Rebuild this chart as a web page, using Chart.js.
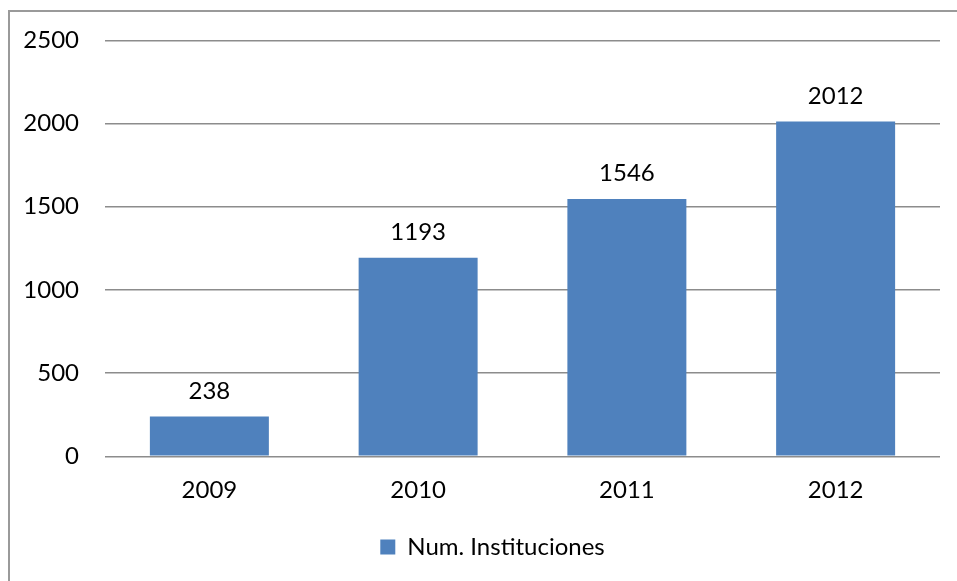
<!DOCTYPE html>
<html>
<head>
<meta charset="utf-8">
<script src="https://cdn.jsdelivr.net/npm/chart.js@4"></script>
<style>
  html, body { margin: 0; padding: 0; background: #fff; }
  #wrap { position: relative; width: 957px; height: 581px; }
  #frame {
    position: absolute; left: 8px; top: 10px; right: 0; bottom: 0;
    border-left: 2px solid #9a9a9a; border-top: 2px solid #9a9a9a;
  }
  canvas { position: absolute; left: 0; top: 0; }
</style>
</head>
<body>
<div id="wrap">
  <div id="frame"></div>
  <canvas id="myBarChart" width="957" height="581"></canvas>
</div>
<script>
const years = ['2009', '2010', '2011', '2012'];
const instituciones = [238, 1193, 1546, 2012];
const yTicks = [0, 500, 1000, 1500, 2000, 2500];

const FONT = "Lato, 'Open Sans', sans-serif";
const FONT_SIZE = 24;

// value written above each bar
const barValues = {
    id: 'barValues',
    afterDatasetsDraw(chart) {
        const ctx = chart.ctx;
        const meta = chart.getDatasetMeta(0);
        ctx.save();
        ctx.font = FONT_SIZE + 'px ' + FONT;
        ctx.fillStyle = '#000';
        ctx.textAlign = 'center';
        ctx.textBaseline = 'alphabetic';
        meta.data.forEach(function(bar, i) {
            ctx.fillText(String(chart.data.datasets[0].data[i]), bar.x, bar.y - 18);
        });
        ctx.restore();
    }
};

// centre the legend under the plot area rather than the whole canvas
const legendShift = {
    id: 'legendShift',
    afterLayout(chart) {
        const lg = chart.legend;
        const area = chart.chartArea;
        const dx = (area.left + area.right) / 2 - (lg.left + lg.right) / 2 - 30;
        lg.left += dx;
        lg.right += dx;
    }
};

document.addEventListener('DOMContentLoaded', function() {
    const ctxBar = document.getElementById('myBarChart');
    new Chart(ctxBar, {
        type: 'bar',
        data: {
            labels: years,
            datasets: [{
                label: 'Num. Instituciones',
                data: instituciones,
                backgroundColor: '#4F81BD',
                borderWidth: 0,
                categoryPercentage: 1,
                barPercentage: 0.57
            }]
        },
        options: {
            responsive: false,
            animation: false,
            layout: { padding: { top: 27, right: 17, bottom: 12, left: 0 } },
            plugins: {
                tooltip: { enabled: false },
                legend: {
                    position: 'bottom',
                    labels: {
                        font: { family: FONT, size: FONT_SIZE },
                        color: '#000',
                        boxWidth: 15,
                        boxHeight: 15,
                        padding: 18,
                        generateLabels: function(chart) {
                            return [{
                                text: chart.data.datasets[0].label,
                                fillStyle: '#4F81BD',
                                strokeStyle: '#4F81BD',
                                lineWidth: 0,
                                datasetIndex: 0
                            }];
                        }
                    }
                }
            },
            scales: {
                x: {
                    grid: { display: false },
                    border: { display: false },
                    ticks: {
                        color: '#000',
                        font: { family: FONT, size: FONT_SIZE },
                        padding: 12
                    }
                },
                y: {
                    min: 0,
                    max: 2500,
                    afterFit: function(scale) { scale.width = 105; },
                    afterBuildTicks: function(scale) {
                        scale.ticks = yTicks.map(function(v) { return { value: v }; });
                    },
                    grid: { color: '#8c8c8c', lineWidth: 1.4, drawTicks: false },
                    border: { display: false },
                    ticks: {
                        color: '#000',
                        font: { family: FONT, size: FONT_SIZE },
                        padding: 26,
                        callback: function(value) { return String(value); }
                    }
                }
            }
        },
        plugins: [barValues, legendShift]
    });
});
</script>
</body>
</html>
